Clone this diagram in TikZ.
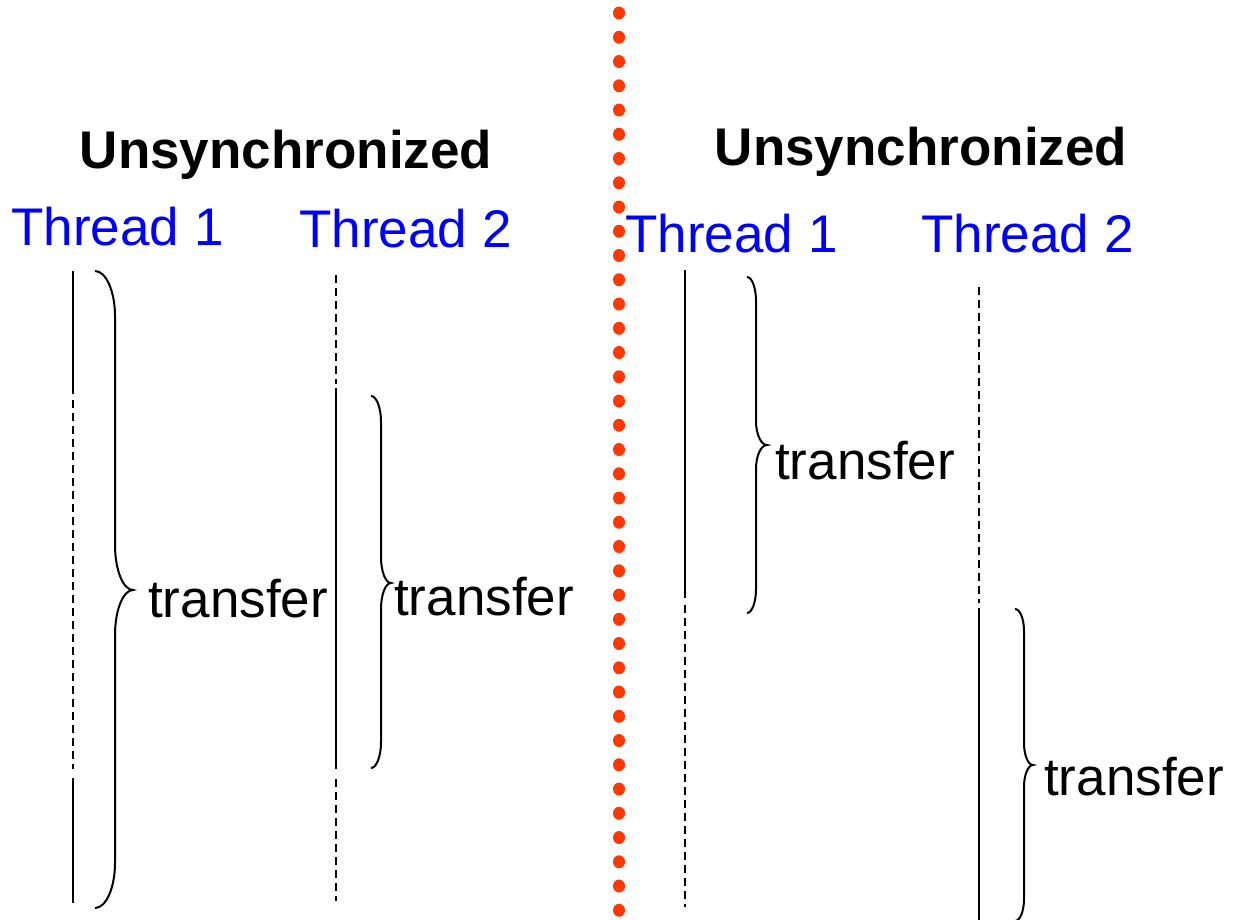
\documentclass[tikz,border=0pt]{standalone}
\usepackage{fontspec}
\setmainfont{Liberation Sans}
\begin{document}
\begin{tikzpicture}[x=1pt,y=-1pt,
  heading/.style={inner sep=0pt, anchor=base, font=\fontsize{53}{60}\selectfont\bfseries},
  thread/.style={inner sep=0pt, anchor=base, text={rgb,255:red,0;green,0;blue,255}, font=\fontsize{53}{60}\selectfont},
  label/.style={inner sep=0pt, anchor=base west, font=\fontsize{53}{60}\selectfont},
  run/.style={line width=1.5pt, draw=black},
  idle/.style={line width=1.5pt, draw=black, dash pattern=on 8pt off 5pt},
  bracestroke/.style={line width=2pt, draw=black}]
\definecolor{dotred}{RGB}{255,55,0}
\useasboundingbox (0,0) rectangle (1239,919);
\clip (0,0) rectangle (1239,919);

% brace: #1 end x, #2 spine x, #3 tip x, #4 top y, #5 bottom y, #6 middle y, #7 curl size
\newcommand{\timebrace}[7]{%
  \draw[bracestroke]
    (#1,#4) .. controls ({#1+0.55*(#2-#1)},#4) and (#2,{#4+0.45*#7}) .. (#2,{#4+#7})
    -- (#2,{#6-#7})
    .. controls (#2,{#6-0.45*#7}) and ({#3-0.55*(#3-#2)},#6) .. (#3,#6)
    .. controls ({#3-0.55*(#3-#2)},#6) and (#2,{#6+0.45*#7}) .. (#2,{#6+#7})
    -- (#2,{#5-#7})
    .. controls (#2,{#5-0.45*#7}) and ({#1+0.55*(#2-#1)},#5) .. (#1,#5);}

% dotted separator
\foreach \i in {0,...,37}
  \fill[dotred] (619,{13+24.25*\i}) ellipse [x radius=6pt, y radius=6.5pt];

% ---------- left half ----------
\node[heading] (hl) at (286,168) {Unsynchronized};
\node[thread] (l1) at (117.5,245) {Thread 1};
\node[thread] (l2) at (405.5,247) {Thread 2};

% thread 1 time line
\coordinate (l1a) at (73,271); \coordinate (l1b) at (73,394);
\coordinate (l1c) at (73,400); \coordinate (l1d) at (73,769);
\coordinate (l1e) at (73,778); \coordinate (l1f) at (73,903);
\draw[run] (l1a) -- (l1b);
\draw[idle] (l1c) -- (l1d);
\draw[run] (l1e) -- (l1f);

% thread 2 time line
\coordinate (l2a) at (336,275); \coordinate (l2b) at (336,384);
\coordinate (l2c) at (336,388); \coordinate (l2d) at (336,769);
\coordinate (l2e) at (336,779); \coordinate (l2f) at (336,901);
\draw[idle] (l2a) -- (l2b);
\draw[run] (l2c) -- (l2d);
\draw[idle] (l2e) -- (l2f);

\timebrace{95}{115}{133}{271}{908}{590}{45}
\timebrace{371}{381}{391}{396}{768}{583}{26}
\node[label] (tl1) at (148,617) {transfer};
\node[label] (tl2) at (394,615) {transfer};

% ---------- right half ----------
\node[heading] (hr) at (921,165) {Unsynchronized};
\node[thread] (r1) at (731.5,252) {Thread 1};
\node[thread] (r2) at (1027.5,252) {Thread 2};

% thread 1 time line
\coordinate (r1a) at (685,270); \coordinate (r1b) at (685,598);
\coordinate (r1c) at (685,605); \coordinate (r1d) at (685,907);
\draw[run] (r1a) -- (r1b);
\draw[idle] (r1c) -- (r1d);

% thread 2 time line
\coordinate (r2a) at (979,287); \coordinate (r2b) at (979,603);
\coordinate (r2c) at (979,608); \coordinate (r2d) at (979,925);
\draw[idle] (r2a) -- (r2b);
\draw[run] (r2c) -- (r2d);

\timebrace{747}{756}{767}{277}{613}{445}{24}
\timebrace{1015}{1024}{1033}{609}{921}{765}{22}
\node[label] (tr1) at (775,479) {transfer};
\node[label] (tr2) at (1044,795) {transfer};
\end{tikzpicture}
\end{document}
